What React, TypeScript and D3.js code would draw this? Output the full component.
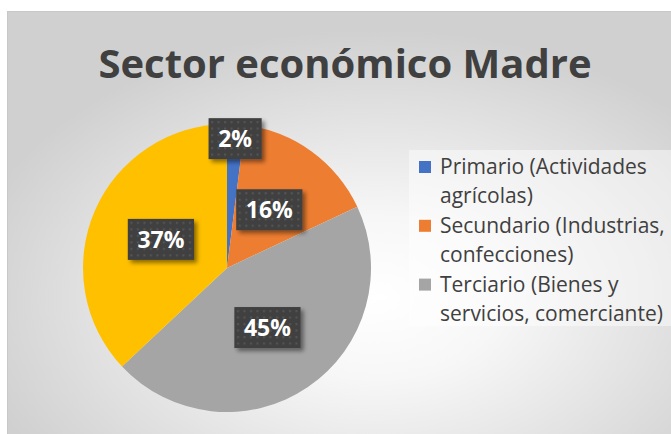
import React, { useEffect, useRef } from 'react'
import * as d3 from 'd3'

// datos del gráfico (la cuarta categoría no aparece en la leyenda del original)
const categories = [
  'Primario (Actividades agrícolas)',
  'Secundario (Industrias, confecciones)',
  'Terciario (Bienes y servicios, comerciante)',
  '',
]
const percents = [2, 16, 45, 37]
const colors = ['#4472C4', '#ED7D31', '#A5A5A5', '#FFC000']
const title = 'Sector económico Madre'

const W = 671
const H = 434

export default function App() {
  const ref = useRef<SVGSVGElement>(null)

  useEffect(() => {
    const svg = d3.select(ref.current)
    svg.selectAll('*').remove()

    const defs = svg.append('defs')
    const grad = defs.append('radialGradient')
      .attr('id', 'bg')
      .attr('cx', 0.55).attr('cy', 0.66).attr('r', 0.62)
    grad.append('stop').attr('offset', 0).attr('stop-color', '#ffffff')
    grad.append('stop').attr('offset', 0.3).attr('stop-color', '#f7f7f7')
    grad.append('stop').attr('offset', 1).attr('stop-color', '#d0d0d0')

    const pat = defs.append('pattern')
      .attr('id', 'dots')
      .attr('patternUnits', 'userSpaceOnUse')
      .attr('width', 6.5).attr('height', 6.5)
    pat.append('rect').attr('width', 6.5).attr('height', 6.5).attr('fill', '#404040')
    pat.append('rect').attr('x', 2).attr('y', 2).attr('width', 2).attr('height', 2).attr('fill', '#565656')

    const flt = defs.append('filter').attr('id', 'shadow')
      .attr('x', '-20%').attr('y', '-20%').attr('width', '150%').attr('height', '160%')
    flt.append('feDropShadow')
      .attr('dx', 3).attr('dy', 3).attr('stdDeviation', 2)
      .attr('flood-color', '#000').attr('flood-opacity', 0.45)

    // fondo
    svg.append('rect')
      .attr('x', 7.5).attr('y', 11.5)
      .attr('width', W).attr('height', H)
      .attr('fill', 'url(#bg)')
      .attr('stroke', '#c8c8c8')

    // título
    svg.append('text')
      .attr('x', 345).attr('y', 78)
      .attr('text-anchor', 'middle')
      .attr('font-family', '"Open Sans", sans-serif')
      .attr('font-weight', 'bold')
      .attr('font-size', 40)
      .attr('fill', '#404040')
      .text(title)

    // pastel
    const cx = 227, cy = 268, r = 144
    const pie = d3.pie<number>().sort(null).value(d => d)
    const arcs = pie(percents)
    const arc = d3.arc<d3.PieArcDatum<number>>().innerRadius(0).outerRadius(r)

    const g = svg.append('g').attr('transform', `translate(${cx},${cy})`)
    g.selectAll('path.slice')
      .data(arcs)
      .enter().append('path')
      .attr('class', 'slice')
      .attr('d', arc)
      .attr('fill', (d, i) => colors[i])

    // etiquetas de datos
    const fs = 23
    arcs.forEach((d, i) => {
      const k = d.value < 5 ? 0.9 : 0.5
      const [lx, ly] = d3.arc<d3.PieArcDatum<number>>().innerRadius(0).outerRadius(r * k * 2).centroid(d)
      const label = percents[i] + '%'
      const digits = label.length - 1
      const bw = 20 + fs * (0.57 * digits + 0.87)
      const bh = 41
      const lg = g.append('g').attr('transform', `translate(${lx},${ly})`)
      lg.append('rect')
        .attr('x', -bw / 2).attr('y', -bh / 2)
        .attr('width', bw).attr('height', bh)
        .attr('fill', 'url(#dots)')
        .attr('filter', 'url(#shadow)')
      lg.append('text')
        .attr('text-anchor', 'middle')
        .attr('dy', '0.36em')
        .attr('font-family', '"Open Sans", sans-serif')
        .attr('font-weight', 'bold')
        .attr('font-size', fs)
        .attr('fill', '#ffffff')
        .text(label)
    })

    // leyenda
    svg.append('rect')
      .attr('x', 409).attr('y', 150)
      .attr('width', 262).attr('height', 176)
      .attr('fill', '#ffffff').attr('opacity', 0.45)

    const lfs = 21
    const pitch = 29.4
    let line = 0
    categories.forEach((name, i) => {
      if (!name) return
      const top = 174 + line * pitch
      svg.append('rect')
        .attr('x', 419).attr('y', top - 13)
        .attr('width', 12).attr('height', 12)
        .attr('fill', colors[i])
      const t = svg.append('text')
        .attr('font-family', '"Open Sans", sans-serif')
        .attr('font-size', lfs)
        .attr('fill', '#404040')
      const words = name.split(' ')
      let cur: string[] = []
      let tsp = t.append('tspan').attr('x', 440).attr('y', top)
      words.forEach(w => {
        cur.push(w)
        tsp.text(cur.join(' '))
        if ((tsp.node() as SVGTSpanElement).getComputedTextLength() > 229 && cur.length > 1) {
          cur.pop()
          tsp.text(cur.join(' '))
          cur = [w]
          line++
          tsp = t.append('tspan').attr('x', 440).attr('y', 174 + line * pitch).text(w)
        }
      })
      line++
    })
  }, [])

  return (
    <svg ref={ref} width={W} height={H}
      style={{ position: 'absolute', left: 0, top: 0, background: '#fff' }} />
  )
}
